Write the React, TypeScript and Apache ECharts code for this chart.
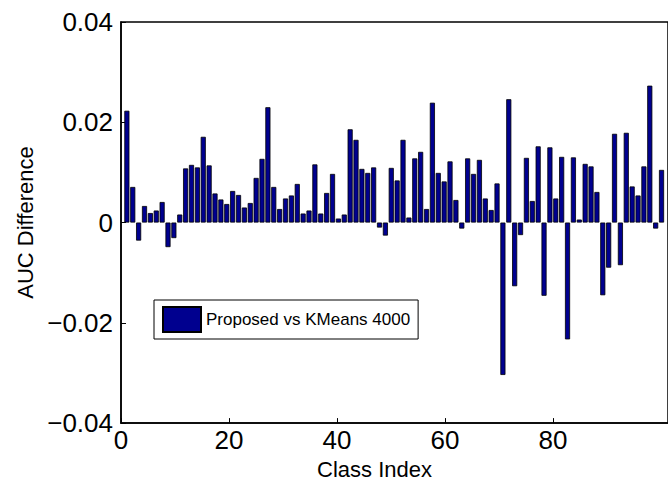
import { useEffect, useRef } from 'react';
import * as echarts from 'echarts';

// AUC difference per class (classes 1..92)
const aucDiff: number[] = [
  0.0223, 0.0071, -0.0036, 0.0033, 0.0019, 0.0024, 0.0041, -0.0049, -0.0031, 0.0016,
  0.0108, 0.0115, 0.0110, 0.0171, 0.0114, 0.0058, 0.0046, 0.0037, 0.0063, 0.0055,
  0.0030, 0.0039, 0.0089, 0.0127, 0.0230, 0.0071, 0.0027, 0.0048, 0.0054, 0.0077,
  0.0018, 0.0024, 0.0116, 0.0018, 0.0059, 0.0097, 0.0008, 0.0016, 0.0186, 0.0165,
  0.0107, 0.0099, 0.0110, -0.0010, -0.0026, 0.0109, 0.0084, 0.0165, 0.0010, 0.0128,
  0.0141, 0.0027, 0.0239, 0.0099, 0.0082, 0.0122, 0.0045, -0.0012, 0.0128, 0.0097,
  0.0125, 0.0048, 0.0025, 0.0078, -0.0304, 0.0246, -0.0127, -0.0025, 0.0129, 0.0043,
  0.0152, -0.0146, 0.0150, 0.0048, 0.0131, -0.0233, 0.0130, 0.0006, 0.0117, 0.0112,
  0.0061, -0.0145, -0.0090, 0.0177, -0.0085, 0.0179, 0.0072, 0.0054, 0.0112, 0.0273,
  -0.0012, 0.0105,
];
const xTickValues: number[] = [0, 20, 40, 60, 80];
const seriesName = 'Proposed vs KMeans 4000';
const xAxisTitle = 'Class Index';
const yAxisTitle = 'AUC Difference';

const FONT = "'Liberation Sans', Arial, Helvetica, sans-serif";

export default function App() {
  const ref = useRef<HTMLDivElement>(null);
  useEffect(() => {
    if (!ref.current) return;
    const chart = echarts.init(ref.current, null, { renderer: 'svg' });
    const fmtY = (v: number) => {
      if (Math.abs(v) < 1e-9) return '0';
      return (v < 0 ? '\u2212' : '') + Math.abs(v).toFixed(2);
    };
    chart.setOption({
      animation: false,
      backgroundColor: '#fff',
      grid: {
        left: 121,
        right: -3,
        top: 22,
        bottom: 57,
        show: true,
        borderColor: '#000',
        borderWidth: 1.5,
        backgroundColor: '#fff',
      },
      xAxis: [
        {
          type: 'value',
          min: 0,
          max: 101.3,
          interval: 20,
          position: 'bottom',
          axisLine: { show: true, onZero: false, lineStyle: { color: '#000', width: 1.5 } },
          axisTick: {
            show: true,
            inside: true,
            length: 5,
            customValues: xTickValues,
            lineStyle: { color: '#000', width: 1 },
          },
          axisLabel: {
            customValues: xTickValues,
            fontSize: 26,
            color: '#000',
            fontFamily: FONT,
            margin: 4,
          },
          splitLine: { show: false },
          name: xAxisTitle,
          nameLocation: 'middle',
          nameGap: 34,
          nameTextStyle: {
            fontSize: 22,
            color: '#000',
            fontFamily: FONT,
            padding: [0, 40, 0, 0],
          },
        },
        {
          type: 'value',
          min: 0,
          max: 93.1,
          show: false,
        },
      ],
      yAxis: {
        type: 'value',
        min: -0.04,
        max: 0.04,
        interval: 0.02,
        axisLine: { show: true, onZero: false, lineStyle: { color: '#000', width: 1.5 } },
        axisTick: { show: true, inside: true, length: 5, lineStyle: { color: '#000', width: 1 } },
        axisLabel: {
          formatter: fmtY,
          fontSize: 26,
          color: '#000',
          fontFamily: FONT,
          margin: 8,
        },
        splitLine: { show: false },
        name: yAxisTitle,
        nameLocation: 'middle',
        nameGap: 84,
        nameRotate: 90,
        nameTextStyle: { fontSize: 22, color: '#000', fontFamily: FONT },
      },
      legend: {
        left: 154,
        top: 300,
        orient: 'horizontal',
        itemWidth: 38,
        itemHeight: 25,
        padding: [6, 8, 6, 8],
        borderColor: '#000',
        borderWidth: 1,
        backgroundColor: '#fff',
        icon: 'rect',
        textStyle: { fontSize: 17, color: '#000', fontFamily: FONT },
        data: [seriesName],
      },
      series: [
        {
          name: seriesName,
          type: 'bar',
          xAxisIndex: 1,
          barWidth: 5.1,
          data: aucDiff.map((v, i) => [i + 1, v]),
          itemStyle: { color: '#00008F', borderColor: '#000', borderWidth: 0.8 },
        },
      ],
    });
    return () => chart.dispose();
  }, []);
  return (
    <div
      ref={ref}
      style={{ position: 'fixed', left: 0, top: 0, width: 668, height: 485 }}
    />
  );
}
